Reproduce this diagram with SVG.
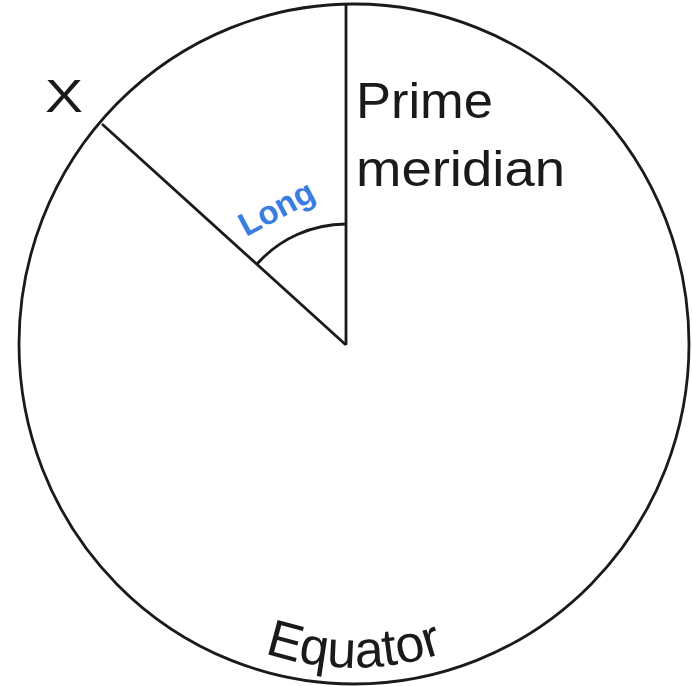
<svg xmlns="http://www.w3.org/2000/svg" width="692" height="686" viewBox="0 0 692 686">
<style>
.ln{fill:none;stroke:#1a1a1a;stroke-width:2.8}
.lbl{font-family:"Liberation Sans",Arial,sans-serif;fill:#1a1a1a}
</style>
<defs>
<path id="eqPath" d="M 154 584 A 281 281 0 0 0 554 584"/>
</defs>
<rect width="692" height="686" fill="#fff"/>
<g id="globe">
<ellipse class="ln" cx="354" cy="344" rx="335" ry="340" stroke-width="3"/>
</g>
<g id="connectors">
<line class="ln" x1="346" y1="4" x2="346" y2="345"/>
<line class="ln" x1="346" y1="345" x2="102" y2="124"/>
<path class="ln" d="M 346 224 A 120 120 0 0 0 257 264"/>
</g>
<g id="labels">
<text class="lbl" x="45" y="112" font-size="46" textLength="38" lengthAdjust="spacingAndGlyphs">X</text>
<text class="lbl" x="356" y="118" font-size="50" textLength="137" lengthAdjust="spacingAndGlyphs">Prime</text>
<text class="lbl" x="356" y="186" font-size="50" textLength="209" lengthAdjust="spacingAndGlyphs">meridian</text>
<text transform="translate(246 237) rotate(-28)" font-family="Liberation Sans,Arial,sans-serif" font-weight="bold" font-size="33" fill="#3a7de0">Long</text>
<text class="lbl" font-size="52"><textPath href="#eqPath" startOffset="50%" text-anchor="middle">Equator</textPath></text>
</g>
</svg>
